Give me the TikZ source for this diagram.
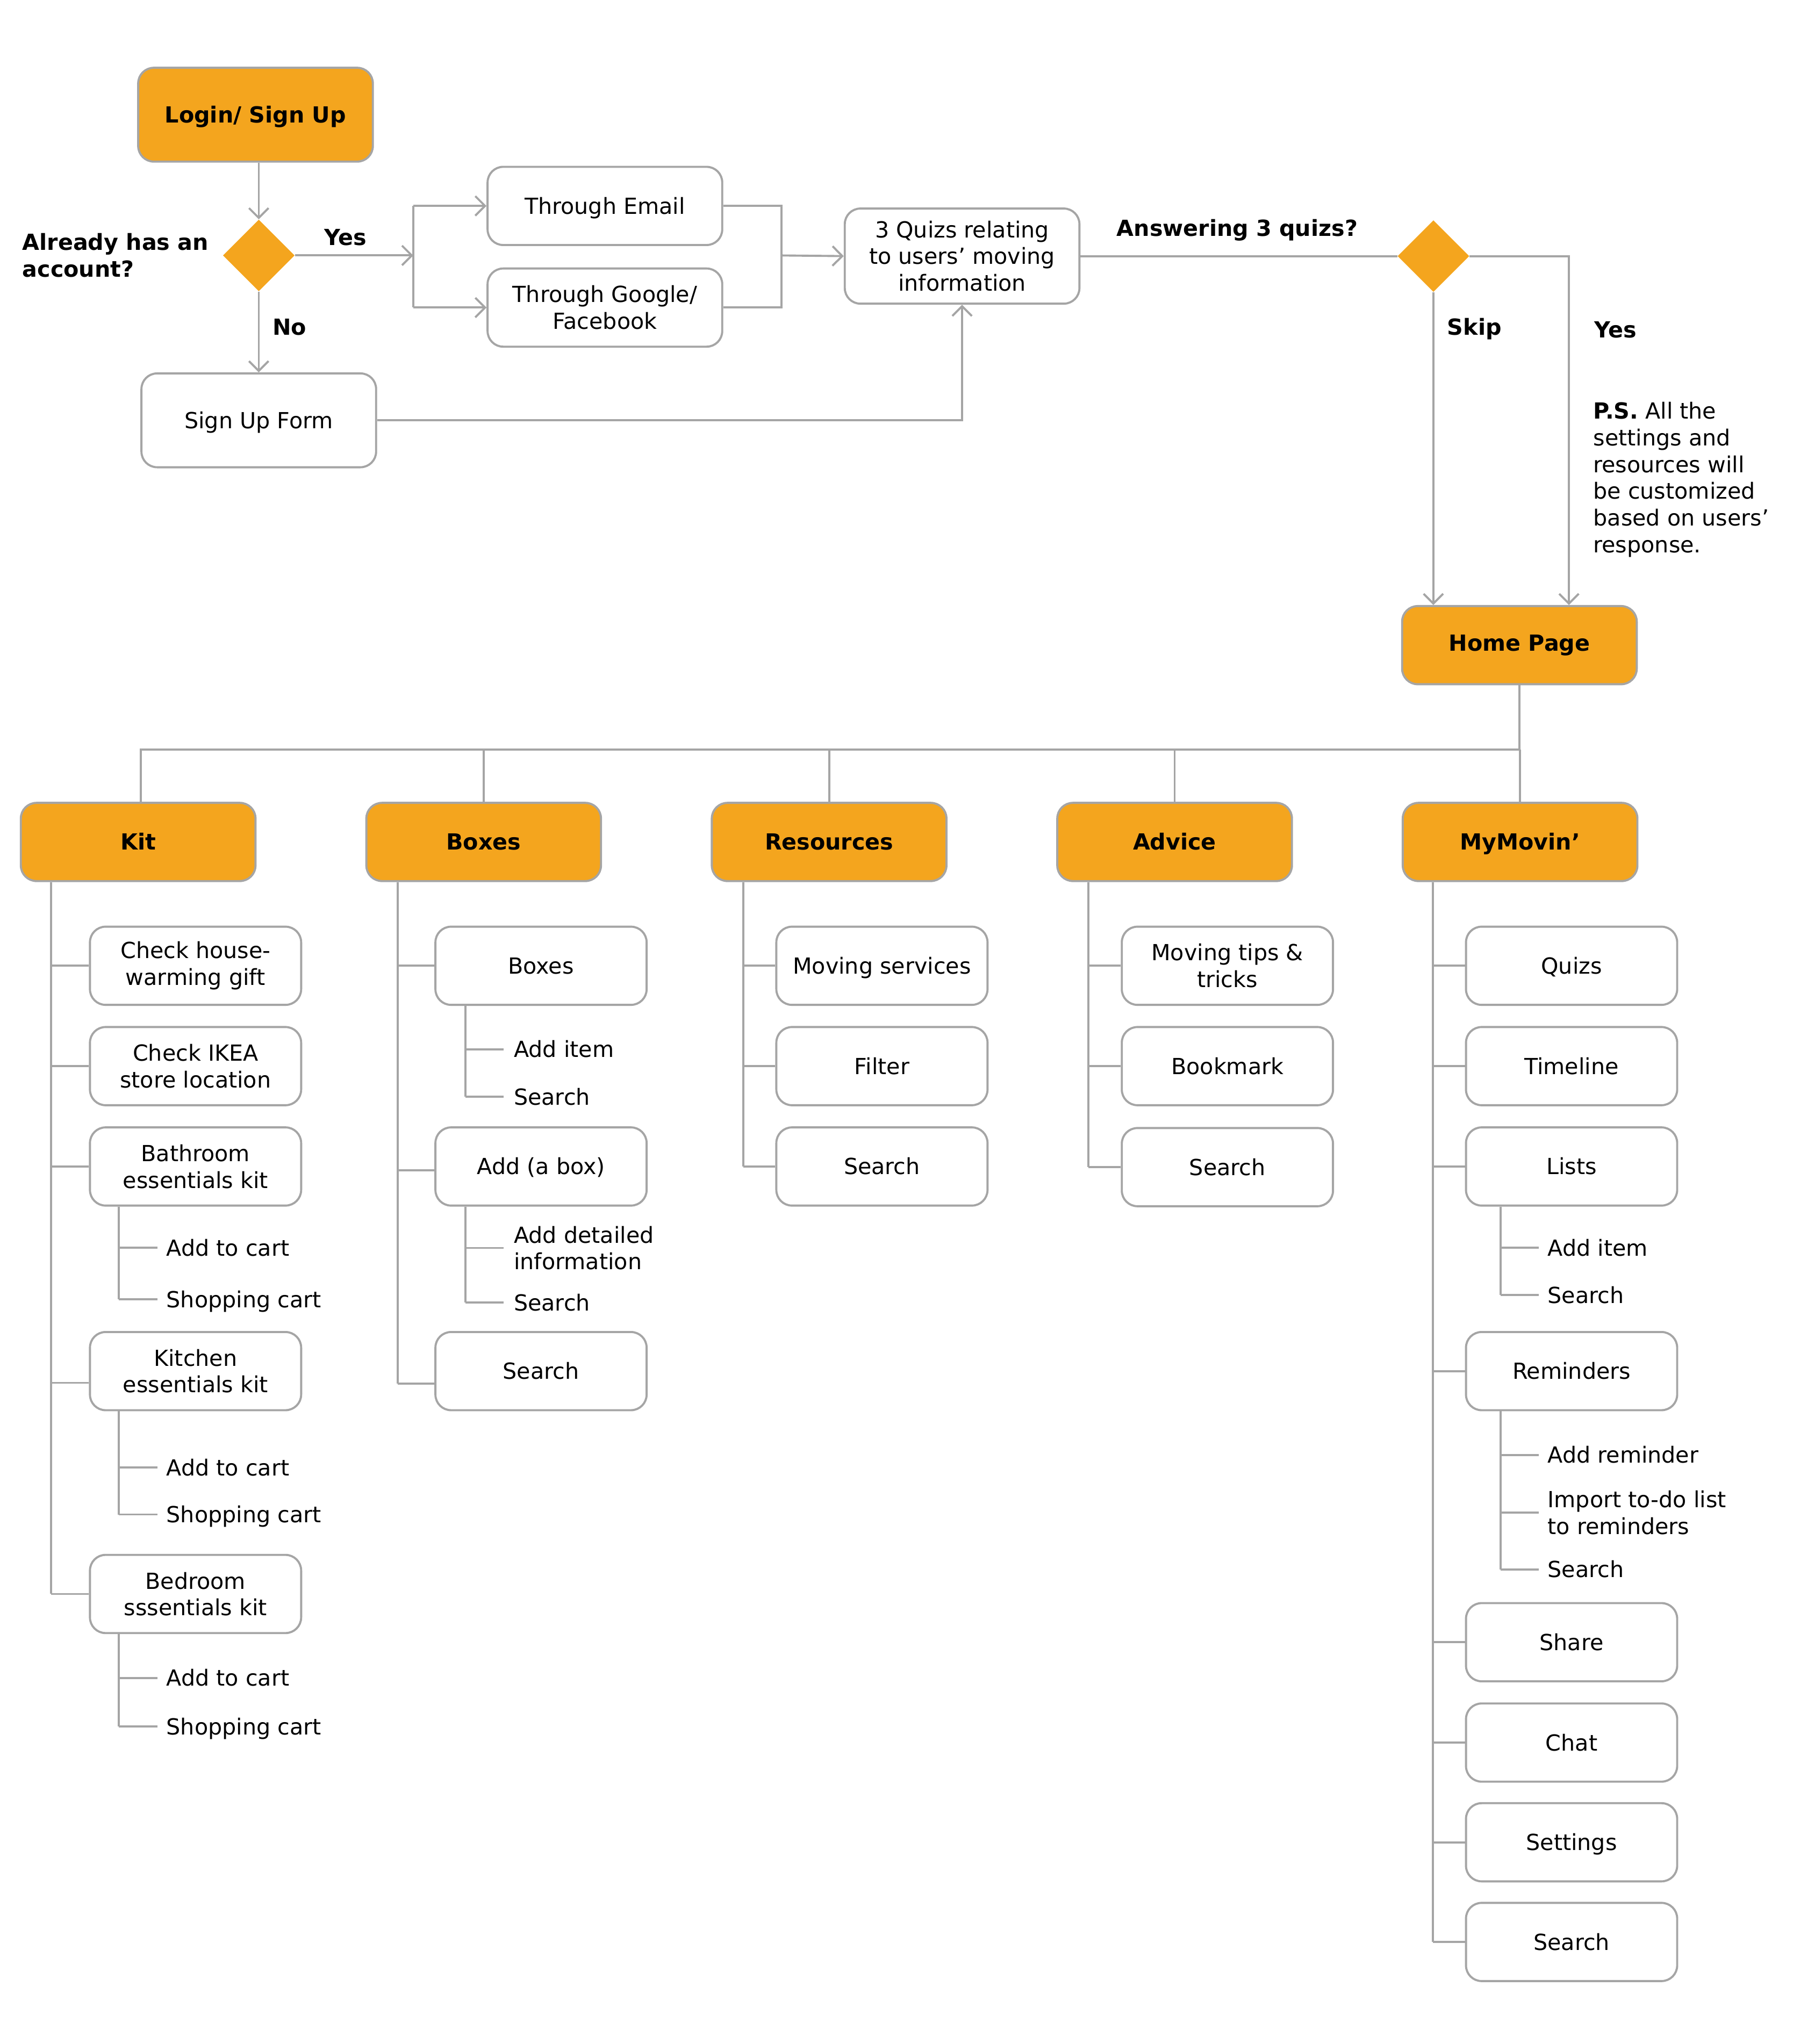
\documentclass[tikz,border=0pt]{standalone}
\usepackage{fontspec}
\setmainfont{DejaVu Sans}
\usetikzlibrary{shapes.geometric,arrows.meta,calc}
\definecolor{orng}{RGB}{244,165,30}
\definecolor{lc}{RGB}{165,165,165}
\begin{document}
\begin{tikzpicture}[x=1pt,y=-1pt,
  font=\fontsize{17}{20.5}\selectfont,
  ln/.style={draw=lc,line width=1.6pt},
  arr/.style={-{Straight Barb[length=7.5pt,width=15pt]}},
  one/.style={text height=16.4pt,text depth=4pt},
  box/.style={draw=lc,line width=1.6pt,rounded corners=12pt,fill=white,minimum width=162pt,minimum height=60pt,inner sep=0pt,align=center},
  obox/.style={box,one},
  cat/.style={box,one,fill=orng,font=\fontsize{17}{20.5}\selectfont\bfseries,minimum width=180pt},
  dia/.style={diamond,fill=orng,minimum width=55pt,minimum height=55pt,inner sep=0pt,aspect=1},
  lbl/.style={font=\fontsize{17}{20.5}\selectfont\bfseries,inner sep=0pt,align=left},
  olbl/.style={lbl,one},
  sub/.style={anchor=west,inner sep=0pt,align=left},
  subone/.style={sub,one}]

\useasboundingbox (0,0) rectangle (1375,1568.3);

% ---------- top flow ----------
\node[cat,minimum height=72pt] (login) at (196,88) {Login/ Sign Up};
\node[dia] (d1) at (198.5,196) {};
\node[obox,minimum width=180pt,minimum height=72pt] (signup) at (198.5,322.5) {Sign Up Form};
\node[obox,minimum width=180pt] (email) at (464,158) {Through Email};
\node[box,minimum width=180pt] (google) at (464,236) {Through Google/\\Facebook};
\node[box,minimum width=180pt,minimum height=73pt] (quiz) at (738,196.5) {3 Quizs relating\\to users’ moving\\information};
\node[dia] (d2) at (1099.5,196.5) {};
\node[box,fill=orng,font=\fontsize{17}{20.5}\selectfont\bfseries,minimum width=180pt] (home) at (1165.5,495) {Home Page};

\node[lbl,anchor=west] (qacc) at (17,196) {Already has an\\account?};
\node[olbl] (yes1) at (265,182) {Yes};
\node[olbl] (no1) at (222,251) {No};
\node[olbl] (ans) at (949,175) {Answering 3 quizs?};
\node[olbl] (skip) at (1131,251) {Skip};
\node[olbl] (yes2) at (1239,253) {Yes};
\node[sub] (ps) at (1222,368) {\textbf{P.S.} All the\\settings and\\resources will\\be customized\\based on users’\\response.};

\coordinate (j1) at (317,196);
\coordinate (j2) at (599.5,196);
\coordinate (yx) at (1203.5,196.5);

\draw[ln,arr] (d1.north |- login.south) -- (d1.north);
\draw[ln,arr] (d1.south) -- (signup.north);
\draw[ln,arr] (d1.east) -- (j1);
\draw[ln] (j1 |- email.west) -- (j1 |- google.west);
\draw[ln,arr] (j1 |- email.west) -- (email.west);
\draw[ln,arr] (j1 |- google.west) -- (google.west);
\draw[ln] (email.east) -| (j2) |- (google.east);
\draw[ln,arr] (j2) -- (quiz.west);
\draw[ln,arr] (signup.east) -| (quiz.south);
\draw[ln] (quiz.east) -- (d2.west);
\draw[ln,arr] (d2.south) -- (d2.south |- home.north);
\draw[ln,arr] (d2.east) -- (yx) -- (yx |- home.north);

% ---------- categories ----------
\node[cat] (kit) at (106,646) {Kit};
\node[cat] (boxes) at (371,646) {Boxes};
\node[cat] (res) at (636,646) {Resources};
\node[cat] (adv) at (901,646) {Advice};
\node[cat] (my) at (1166,646) {MyMovin’};

\coordinate (busL) at (108,575);
\draw[ln] (home.south) |- (busL) -- (busL |- kit.north);
\foreach \c in {boxes,res,adv,my} \draw[ln] (\c.north) -- (\c.north |- busL);

% ---------- Kit ----------
\node[box] (kit1) at (150,741) {Check house-\\warming gift};
\node[box] (kit2) at (150,818) {Check IKEA\\store location};
\node[box] (kit3) at (150,895) {Bathroom\\essentials kit};
\node[box] (kit4) at (150,1052) {Kitchen\\essentials kit};
\node[box] (kit5) at (150,1223) {Bedroom\\sssentials kit};
\coordinate (kv) at (39,0);
\coordinate (ks) at (91,0);
\coordinate (k4b) at ($(kit4.west)+(0,9)$);
\draw[ln] (kit.south -| kv) -- (kv |- kit5.west);
\foreach \n in {kit1,kit2,kit3,kit5} \draw[ln] (kv |- \n.west) -- (\n.west);
\draw[ln] (kv |- k4b) -- (k4b);

\node[subone] (k3a) at (127.5,957.4) {Add to cart};
\node[subone] (k3b) at (127.5,997) {Shopping cart};
\node[subone] (k4a) at (127.5,1126) {Add to cart};
\node[subone] (k4c) at (127.5,1162) {Shopping cart};
\node[subone] (k5a) at (127.5,1287.5) {Add to cart};
\node[subone] (k5b) at (127.5,1324.7) {Shopping cart};
\draw[ln] (kit3.south -| ks) -- (ks |- k3b.west);
\draw[ln] (kit4.south -| ks) -- (ks |- k4c.west);
\draw[ln] (kit5.south -| ks) -- (ks |- k5b.west);
\foreach \n in {k3a,k3b,k4a,k4c,k5a,k5b} \draw[ln] (ks |- \n.west) -- ([xshift=-6.5pt]\n.west);

% ---------- Boxes ----------
\node[obox] (bx1) at (415,741) {Boxes};
\node[obox] (bx2) at (415,895) {Add (a box)};
\node[obox] (bx3) at (415,1052) {Search};
\coordinate (bv) at (305,0);
\coordinate (bs) at (357,0);
\coordinate (b2b) at ($(bx2.west)+(0,3)$);
\coordinate (b3b) at ($(bx3.west)+(0,9.5)$);
\draw[ln] (boxes.south -| bv) -- (bv |- b3b);
\draw[ln] (bv |- bx1.west) -- (bx1.west);
\draw[ln] (bv |- b2b) -- (b2b);
\draw[ln] (bv |- b3b) -- (b3b);

\node[subone] (b1a) at (394,805) {Add item};
\node[subone] (b1b) at (394,841.6) {Search};
\node[sub] (b2a) at (394,957.5) {Add detailed\\information};
\node[subone] (b2c) at (394,999.5) {Search};
\draw[ln] (bx1.south -| bs) -- (bs |- b1b.west);
\draw[ln] (bx2.south -| bs) -- (bs |- b2c.west);
\foreach \n in {b1a,b1b,b2a,b2c} \draw[ln] (bs |- \n.west) -- ([xshift=-7.5pt]\n.west);

% ---------- Resources ----------
\node[obox] (r1) at (676.5,741) {Moving services};
\node[obox] (r2) at (676.5,818) {Filter};
\node[obox] (r3) at (676.5,895) {Search};
\coordinate (rv) at (570,0);
\draw[ln] (res.south -| rv) -- (rv |- r3.west);
\foreach \n in {r1,r2,r3} \draw[ln] (rv |- \n.west) -- (\n.west);

% ---------- Advice ----------
\node[box] (a1) at (941.5,741) {Moving tips \&\\tricks};
\node[obox] (a2) at (941.5,818) {Bookmark};
\node[obox] (a3) at (941.5,895.5) {Search};
\coordinate (av) at (835,0);
\draw[ln] (adv.south -| av) -- (av |- a3.west);
\foreach \n in {a1,a2,a3} \draw[ln] (av |- \n.west) -- (\n.west);

% ---------- MyMovin' ----------
\node[obox] (m1) at (1205.5,741) {Quizs};
\node[obox] (m2) at (1205.5,818) {Timeline};
\node[obox] (m3) at (1205.5,895) {Lists};
\node[obox] (m4) at (1205.5,1052) {Reminders};
\node[obox] (m5) at (1205.5,1260) {Share};
\node[obox] (m6) at (1205.5,1337) {Chat};
\node[obox] (m7) at (1205.5,1413.5) {Settings};
\node[obox] (m8) at (1205.5,1490) {Search};
\coordinate (mv) at (1099,0);
\coordinate (ms) at (1151,0);
\draw[ln] (my.south -| mv) -- (mv |- m8.west);
\foreach \n in {m1,m2,m3,m4,m5,m6,m7,m8} \draw[ln] (mv |- \n.west) -- (\n.west);

\node[subone] (m3a) at (1187,957.3) {Add item};
\node[subone] (m3b) at (1187,993.6) {Search};
\node[subone] (m4a) at (1187,1116.4) {Add reminder};
\node[sub] (m4b) at (1187,1160.5) {Import to-do list\\to reminders};
\node[subone] (m4c) at (1187,1204.2) {Search};
\draw[ln] (m3.south -| ms) -- (ms |- m3b.west);
\draw[ln] (m4.south -| ms) -- (ms |- m4c.west);
\foreach \n in {m3a,m3b,m4a,m4b,m4c} \draw[ln] (ms |- \n.west) -- ([xshift=-6.5pt]\n.west);

\end{tikzpicture}
\end{document}
